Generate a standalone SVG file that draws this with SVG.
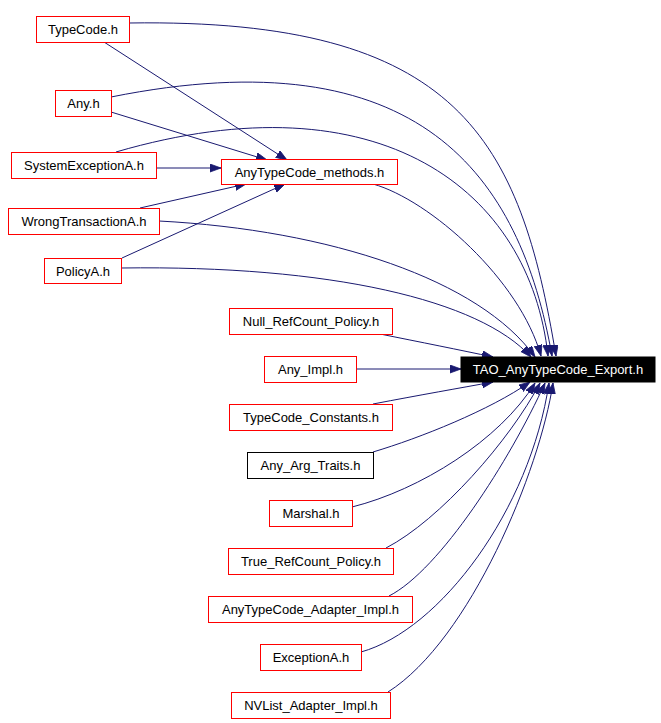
<svg xmlns="http://www.w3.org/2000/svg" width="661" height="723" viewBox="0 0 661 723">
<style>
.n rect{fill:#fff;stroke:#f00;stroke-width:1}
.n text{font-family:"Liberation Sans",Arial,sans-serif;font-size:13px;text-anchor:middle;fill:#000}
#n_export rect{fill:#000;stroke:#000}
#n_export text{fill:#fff}
#n_argtraits rect{stroke:#000}
.e path{fill:none;stroke:#191970;stroke-width:1;marker-end:url(#ah)}
</style>
<defs>
<marker id="ah" markerUnits="userSpaceOnUse" markerWidth="12" markerHeight="9" refX="11" refY="4" orient="auto">
<path d="M0,0 L11,4 L0,8 z" fill="#191970" stroke="#191970" stroke-width="0.8"/>
</marker>
</defs>
<rect width="661" height="723" fill="#fff"/>
<g class="e" id="edges">
<path d="M104,42 L287,160"/>
<path d="M111,112 L267,160"/>
<path d="M156,168 L221,168"/>
<path d="M140,208 L246,184"/>
<path d="M122,258 L285,184"/>
<path d="M129,23 C460,18 520,140 556,356"/>
<path d="M111,97 C420,35 520,175 552,356"/>
<path d="M116,152 C380,75 530,190 548,356"/>
<path d="M373,184 C430,200 520,280 541,356"/>
<path d="M159,221 C330,230 480,280 535,357"/>
<path d="M121,268 C330,265 480,300 531,357"/>
<path d="M380,334 C420,342 460,350 493,357"/>
<path d="M356,369 L461,369"/>
<path d="M373,404 C420,395 460,388 493,382"/>
<path d="M373,452 C420,438 490,410 530,382"/>
<path d="M352,507 C420,490 500,440 535,383"/>
<path d="M386,548 C440,520 510,440 540,383"/>
<path d="M389,596 C440,570 510,460 545,383"/>
<path d="M361,652 C440,630 530,510 549,383"/>
<path d="M388,692 C470,640 540,470 553,383"/>
</g>
<g class="n" id="n_typecode"><rect x="36.5" y="16.5" width="93" height="26"/><text x="83" y="34">TypeCode.h</text></g>
<g class="n" id="n_any"><rect x="55.5" y="90.5" width="56" height="26"/><text x="83.5" y="108">Any.h</text></g>
<g class="n" id="n_sysexc"><rect x="11.5" y="152.5" width="145" height="26"/><text x="84" y="170">SystemExceptionA.h</text></g>
<g class="n" id="n_methods"><rect x="221.5" y="159.5" width="176" height="25"/><text x="309.5" y="176.5">AnyTypeCode_methods.h</text></g>
<g class="n" id="n_wrong"><rect x="8.5" y="208.5" width="151" height="26"/><text x="84" y="226">WrongTransactionA.h</text></g>
<g class="n" id="n_policy"><rect x="44.5" y="258.5" width="77" height="25"/><text x="83" y="275.5">PolicyA.h</text></g>
<g class="n" id="n_export"><rect x="461" y="357" width="194" height="25"/><text x="558" y="374">TAO_AnyTypeCode_Export.h</text></g>
<g class="n" id="n_nullref"><rect x="229.5" y="308.5" width="163" height="26"/><text x="311" y="326">Null_RefCount_Policy.h</text></g>
<g class="n" id="n_anyimpl"><rect x="264.5" y="356.5" width="92" height="26"/><text x="310.5" y="374">Any_Impl.h</text></g>
<g class="n" id="n_tcconst"><rect x="229.5" y="404.5" width="163" height="26"/><text x="311" y="422">TypeCode_Constants.h</text></g>
<g class="n" id="n_argtraits"><rect x="247.5" y="452.5" width="126" height="26"/><text x="310.5" y="470">Any_Arg_Traits.h</text></g>
<g class="n" id="n_marshal"><rect x="269.5" y="500.5" width="83" height="26"/><text x="311" y="518">Marshal.h</text></g>
<g class="n" id="n_trueref"><rect x="228.5" y="548.5" width="165" height="26"/><text x="311" y="566">True_RefCount_Policy.h</text></g>
<g class="n" id="n_adapter"><rect x="208.5" y="596.5" width="204" height="26"/><text x="310.5" y="614">AnyTypeCode_Adapter_Impl.h</text></g>
<g class="n" id="n_exception"><rect x="260.5" y="644.5" width="101" height="26"/><text x="311" y="662">ExceptionA.h</text></g>
<g class="n" id="n_nvlist"><rect x="231.5" y="692.5" width="159" height="26"/><text x="311" y="710">NVList_Adapter_Impl.h</text></g>
</svg>
